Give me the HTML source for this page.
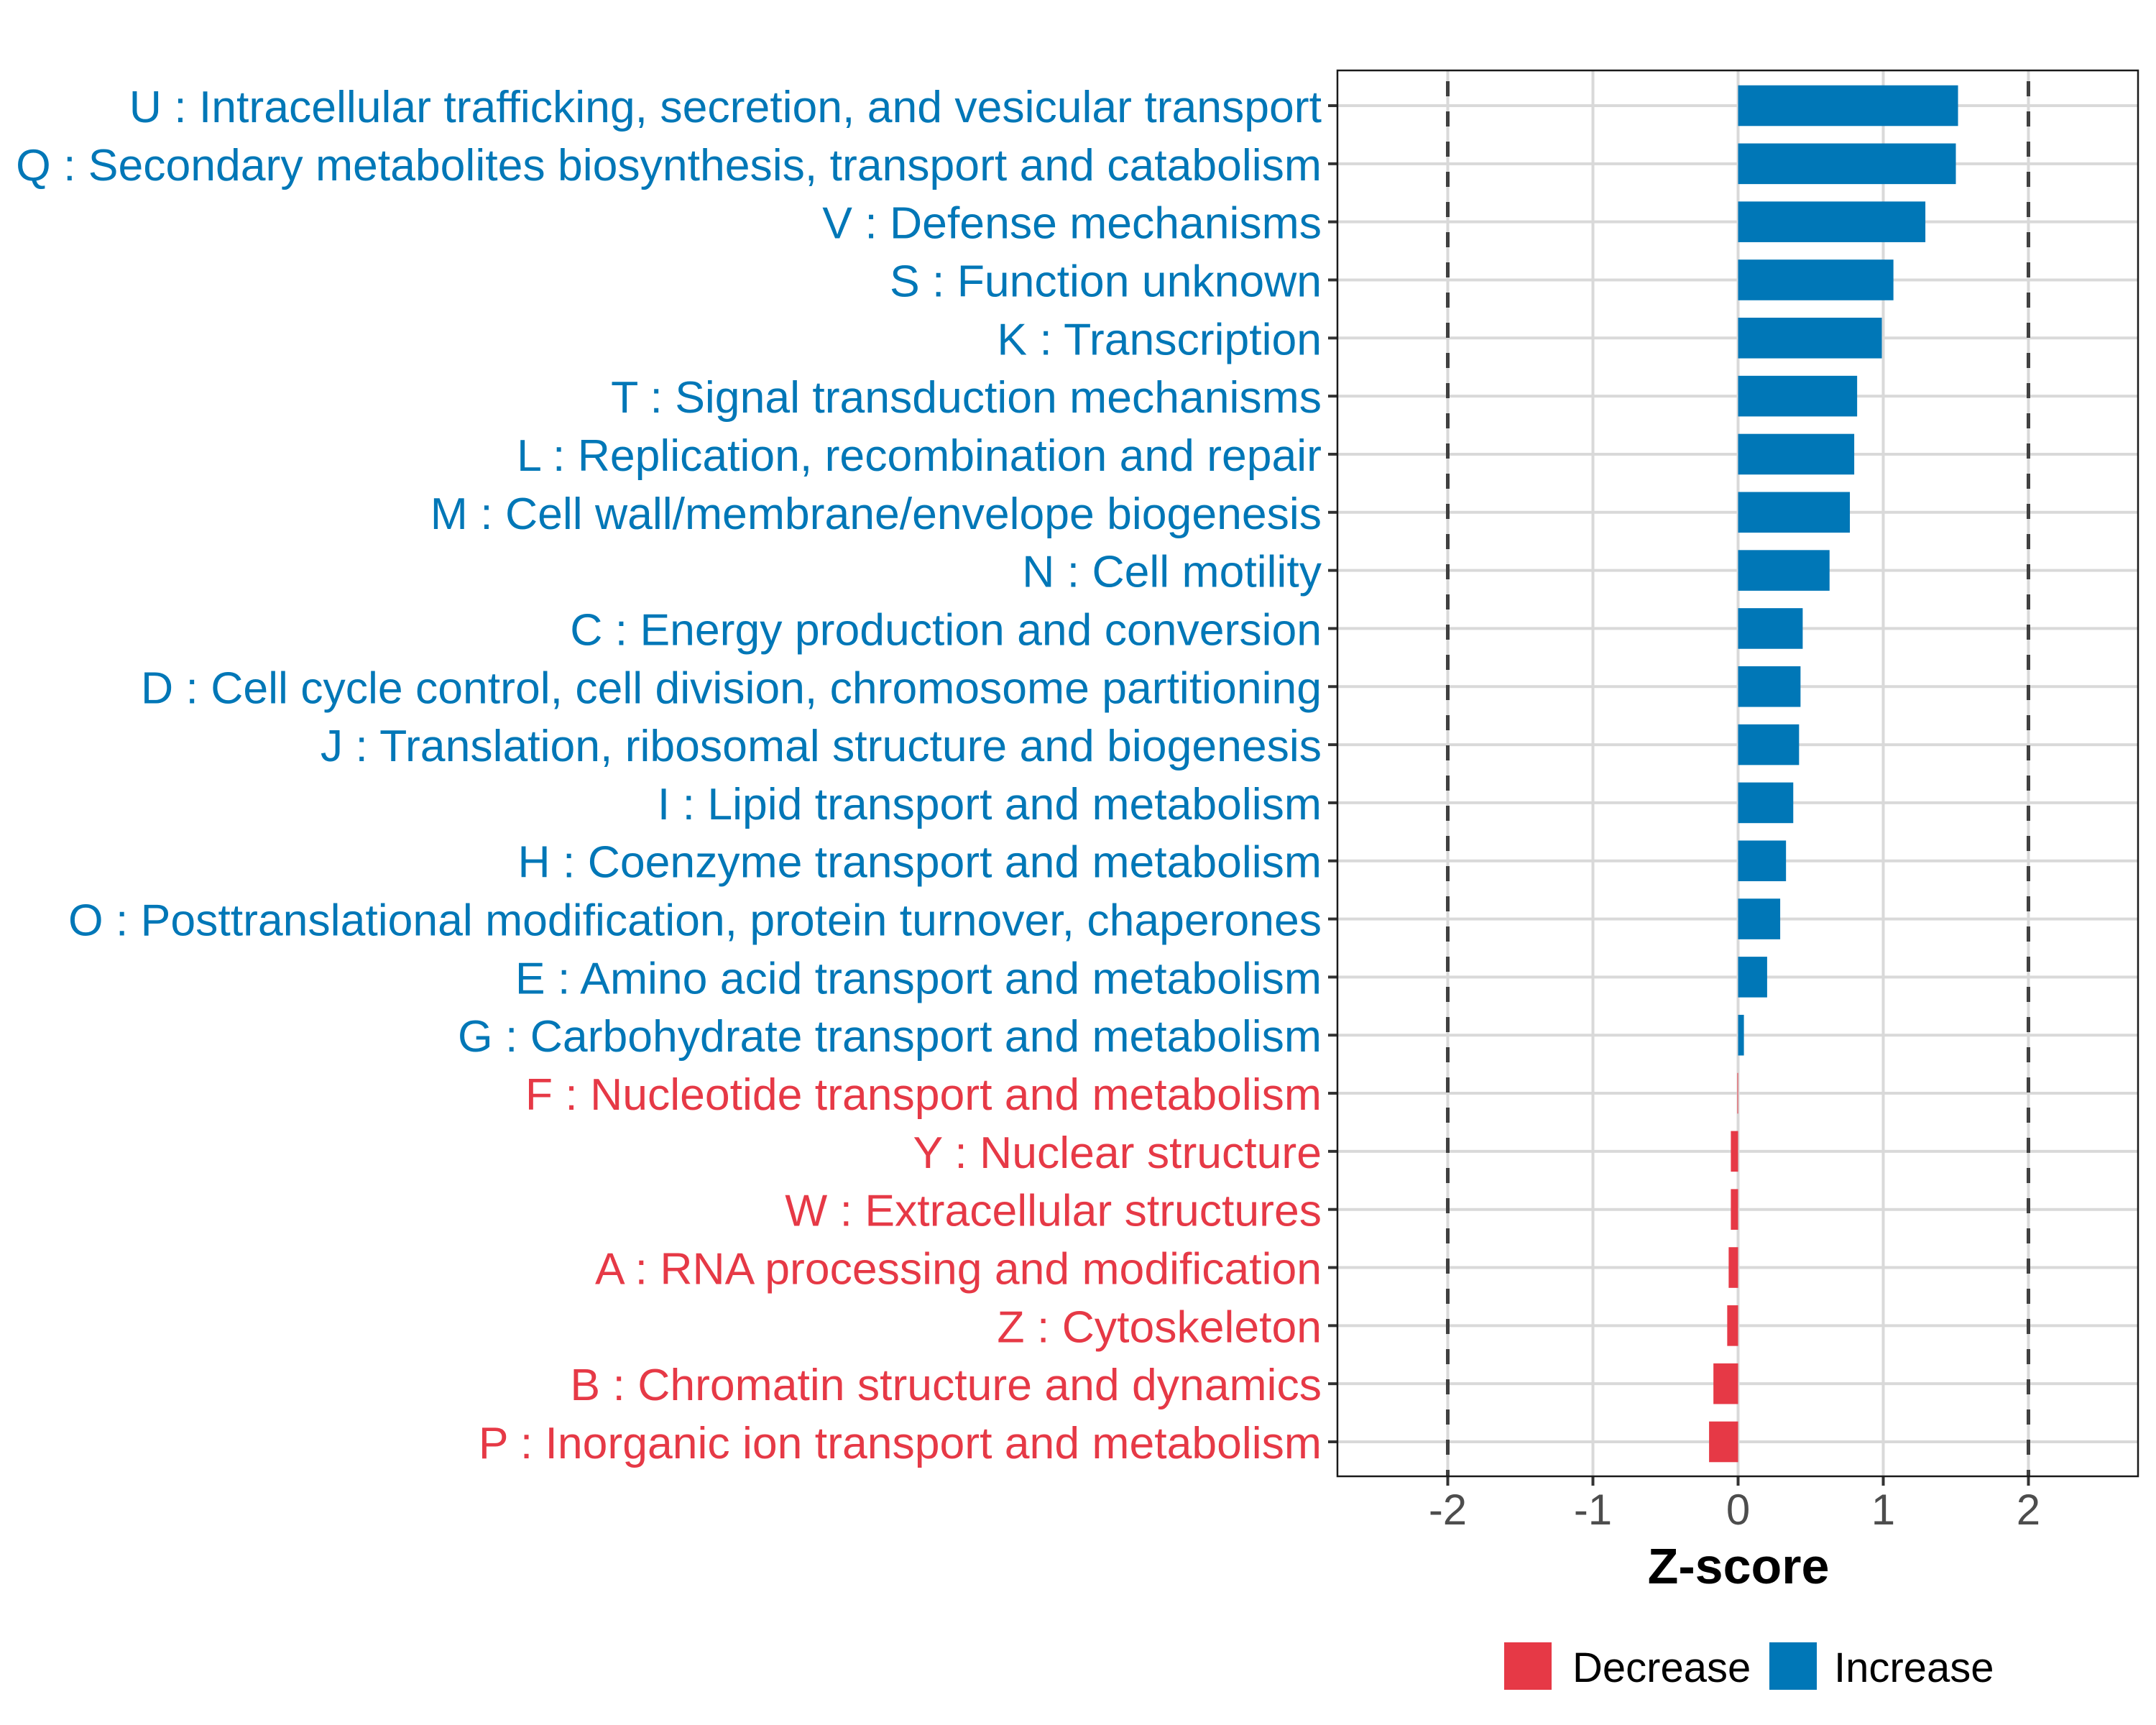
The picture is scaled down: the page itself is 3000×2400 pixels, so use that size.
<!DOCTYPE html>
<html><head><meta charset="utf-8"><style>
html,body{margin:0;padding:0;background:#fff}
svg{display:block;font-family:"Liberation Sans",Arial,sans-serif}
</style></head><body>
<svg id="chart" width="3000" height="2400" viewBox="0 0 3000 2400" xmlns="http://www.w3.org/2000/svg">
<rect x="0" y="0" width="3000" height="2400" fill="#fff"/>
<g id="grid"></g><g id="bars"></g><g id="labels"></g><g id="axis"></g>
<rect x="1861" y="98" width="1114" height="1956" fill="none" stroke="#1a1a1a" stroke-width="2.5"/>
<text x="2419" y="2203" font-size="70" font-weight="bold" text-anchor="middle" fill="#000">Z-score</text>
<rect x="2093" y="2285" width="66" height="66" fill="#E63946"/>
<text x="2188" y="2340" font-size="58" fill="#000">Decrease</text>
<rect x="2462" y="2285" width="66" height="66" fill="#0077B7"/>
<text x="2552" y="2340" font-size="58" fill="#000">Increase</text>
</svg>
<script>
const categories = [
"U : Intracellular trafficking, secretion, and vesicular transport",
"Q : Secondary metabolites biosynthesis, transport and catabolism",
"V : Defense mechanisms",
"S : Function unknown",
"K : Transcription",
"T : Signal transduction mechanisms",
"L : Replication, recombination and repair",
"M : Cell wall/membrane/envelope biogenesis",
"N : Cell motility",
"C : Energy production and conversion",
"D : Cell cycle control, cell division, chromosome partitioning",
"J : Translation, ribosomal structure and biogenesis",
"I : Lipid transport and metabolism",
"H : Coenzyme transport and metabolism",
"O : Posttranslational modification, protein turnover, chaperones",
"E : Amino acid transport and metabolism",
"G : Carbohydrate transport and metabolism",
"F : Nucleotide transport and metabolism",
"Y : Nuclear structure",
"W : Extracellular structures",
"A : RNA processing and modification",
"Z : Cytoskeleton",
"B : Chromatin structure and dynamics",
"P : Inorganic ion transport and metabolism"];
const zscores = [1.515,1.50,1.29,1.07,0.99,0.82,0.80,0.77,0.63,0.445,0.43,0.42,0.38,0.33,0.29,0.20,0.04,-0.005,-0.05,-0.05,-0.065,-0.075,-0.17,-0.2];
const xTicks = [-2,-1,0,1,2];
const xTickLabels = ["-2","-1","0","1","2"];
const thresholds = [-2,2];

const NS="http://www.w3.org/2000/svg";
const L=1861,R=2975,T=98,B=2054;
const xMin=-2.76,xMax=2.755;
const x=v=>L+(v-xMin)/(xMax-xMin)*(R-L);
const y0=147,y1=2006;
const step=(y1-y0)/(categories.length-1);
const y=i=>y0+i*step;
const bh=step*0.7;
const BLUE="#0077B7",RED="#E63946";
function mk(tag,attrs,parent){const e=document.createElementNS(NS,tag);for(const k in attrs)e.setAttribute(k,attrs[k]);parent.appendChild(e);return e;}
const grid=document.getElementById('grid'),bars=document.getElementById('bars'),labels=document.getElementById('labels'),axis=document.getElementById('axis');
xTicks.forEach((t,i)=>{
  const g=mk('line',{x1:x(t),x2:x(t),y1:T,y2:B,stroke:'#d9d9d9','stroke-width':4},grid);
  
  
  const tk=mk('line',{x1:x(t),x2:x(t),y1:B,y2:B+13,stroke:'#333','stroke-width':4},axis);
  
  
  const tl=mk('text',{x:x(t),y:2121,'font-size':60,'text-anchor':'middle',fill:'#4d4d4d'},axis);
  tl.textContent=xTickLabels[i];
  
  
});
categories.forEach((c,i)=>{
  const g=mk('line',{x1:L,x2:R,y1:y(i),y2:y(i),stroke:'#d9d9d9','stroke-width':4},grid);
  
  
});
thresholds.forEach(t=>{
  const d=mk('line',{x1:x(t),x2:x(t),y1:T+15,y2:B,stroke:'#404040','stroke-width':5,'stroke-dasharray':'21 21'},grid);
  
  
});
categories.forEach((c,i)=>{
  const v=zscores[i];const col=v>=0?BLUE:RED;
  const r=mk('rect',{x:Math.min(x(0),x(v)),y:y(i)-bh/2,width:Math.max(Math.abs(x(v)-x(0)),0.8),height:bh,fill:col},bars);
  
  
  const tk=mk('line',{x1:1848,x2:L,y1:y(i),y2:y(i),stroke:'#333','stroke-width':4},axis);
  
  
  const t=mk('text',{x:1839,y:y(i)+23,'font-size':62.5,'text-anchor':'end',fill:col},labels);
  t.textContent=c;
  
  
});
</script>
</body></html>
